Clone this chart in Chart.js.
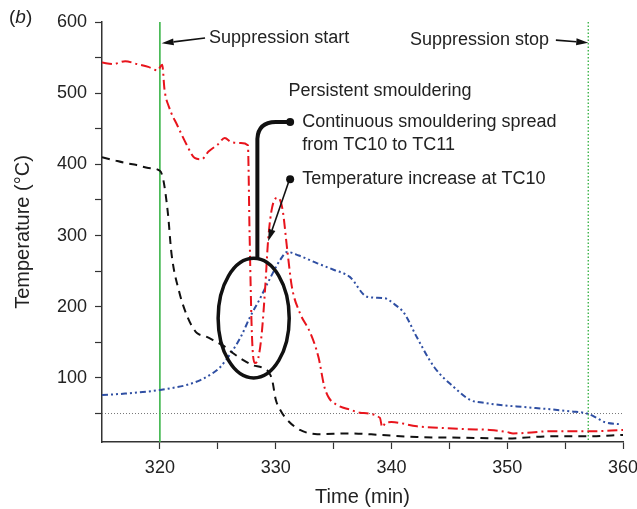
<!DOCTYPE html>
<html>
<head>
<meta charset="utf-8">
<script src="https://cdn.jsdelivr.net/npm/chart.js@4/dist/chart.umd.min.js"></script>
<style>
  html, body { margin: 0; padding: 0; background: #fff; }
  #wrap { width: 637px; height: 509px; }
</style>
</head>
<body>
<div id="wrap"><canvas id="temp-chart"></canvas></div>
<script>
const FONT = '"Liberation Sans", Arial, Helvetica, sans-serif';
const TEXT = '#222222';

// TC10 (red, dash-dot)
const tc10Time = [315, 316, 317, 318, 319, 319.8, 320.2, 320.4, 320.8, 321.5, 322.3, 323, 323.6, 324.2, 325, 325.6, 326.2, 327, 327.6,
  327.75, 327.95, 328.2, 328.5, 328.8, 329.1, 329.35, 329.7, 330.2, 330.6, 331, 331.4, 332.1, 333, 333.7, 334.2, 334.6, 335.3, 336.5,
  337.3, 339, 339.2, 339.5, 340, 342.2, 344, 346.5, 348.5, 350, 350.5, 353.7, 357, 360];
const tc10Temp = [543, 541, 545, 541, 537, 532, 540, 505, 480, 455, 428, 409, 407, 418, 428, 437, 431, 430, 427,
  300, 160, 121, 128, 163, 228, 294, 340, 353, 336, 280, 228, 191, 163, 129, 88, 72, 62, 55,
  51, 44, 31, 37, 38, 32, 30, 28, 27, 24, 22, 25, 25, 27];

// TC11 (black, dashed)
const tc11Time = [315, 316, 317, 318, 319, 320, 320.3, 320.7, 321, 321.7, 322.4, 322.8, 323.2, 324, 324.6, 325.5, 326.3, 327.2, 328,
  328.9, 329.4, 329.7, 330, 330.4, 331, 332.1, 333.6, 336.4, 339, 342.2, 346, 350, 353.7, 357, 360];
const tc11Temp = [410, 406, 402, 399, 395, 391, 378, 330, 275, 219, 185, 172, 163, 158, 153, 145, 135, 125, 118,
  114, 108, 97, 70, 55, 41, 27, 21, 22, 20, 17, 16, 15, 18, 18, 20];

// TC12 (blue, dash-dot-dot)
const tc12Time = [315, 317, 319, 320, 321.1, 322.3, 323.5, 324.5, 325.2, 326.3, 327, 327.8, 328.6, 329.3, 330.4, 331, 332, 333.6,
  335, 336.4, 337.9, 339.4, 340.3, 341.1, 342.2, 343.7, 345.4, 346.8, 348, 349.4, 351.5, 353.7, 355.5, 356.9, 357.6, 358.4, 359.7];
const tc12Temp = [76, 78, 81, 83, 86, 90, 97, 106, 115, 139, 158, 186, 210, 233, 266, 277, 272, 261,
  252, 242, 214, 212, 203, 191, 157, 115, 87, 69, 65, 62, 59, 56, 53, 50, 45, 38, 35];

const X_TICKS = [320, 325, 330, 335, 340, 345, 350, 355, 360];
const Y_TICKS = [50, 100, 150, 200, 250, 300, 350, 400, 450, 500, 550, 600];

const SUPPRESSION_START = 320;
const SUPPRESSION_STOP = 357;
const THRESHOLD = 50;

const toPoints = (xs, ys) => xs.map((x, i) => ({ x, y: ys[i] }));

const drawArrow = (ctx, x1, y1, x2, y2) => {
  const ang = Math.atan2(y2 - y1, x2 - x1);
  const len = 12, half = 3.5;
  const bx = x2 - len * Math.cos(ang), by = y2 - len * Math.sin(ang);
  ctx.beginPath();
  ctx.moveTo(x1, y1);
  ctx.lineTo(bx, by);
  ctx.stroke();
  ctx.beginPath();
  ctx.moveTo(x2, y2);
  ctx.lineTo(bx + half * Math.sin(ang), by - half * Math.cos(ang));
  ctx.lineTo(bx - half * Math.sin(ang), by + half * Math.cos(ang));
  ctx.closePath();
  ctx.fill();
};

const markers = {
  id: 'markers',
  beforeDatasetsDraw(chart) {
    const { ctx, chartArea: a, scales: { x, y } } = chart;
    ctx.save();
    // threshold line
    ctx.strokeStyle = '#777';
    ctx.lineWidth = 1;
    ctx.setLineDash([1, 2]);
    ctx.beginPath();
    ctx.moveTo(a.left, y.getPixelForValue(THRESHOLD));
    ctx.lineTo(a.right, y.getPixelForValue(THRESHOLD));
    ctx.stroke();
    // suppression start / stop
    ctx.strokeStyle = '#3cb54a';
    ctx.lineWidth = 1.6;
    ctx.setLineDash([]);
    ctx.beginPath();
    ctx.moveTo(x.getPixelForValue(SUPPRESSION_START), y.getPixelForValue(600));
    ctx.lineTo(x.getPixelForValue(SUPPRESSION_START), a.bottom);
    ctx.stroke();
    ctx.lineWidth = 1.4;
    ctx.setLineDash([1.5, 2]);
    ctx.beginPath();
    ctx.moveTo(x.getPixelForValue(SUPPRESSION_STOP), y.getPixelForValue(600));
    ctx.lineTo(x.getPixelForValue(SUPPRESSION_STOP), a.bottom);
    ctx.stroke();
    ctx.restore();
  },
  afterDatasetsDraw(chart) {
    const { ctx, scales: { x, y } } = chart;
    const px = (v) => x.getPixelForValue(v);
    const py = (v) => y.getPixelForValue(v);
    ctx.save();
    ctx.fillStyle = TEXT;
    ctx.strokeStyle = '#111';
    ctx.setLineDash([]);

    // ellipse around the dip
    const cx = px(328.1), cy = py(184);
    ctx.lineWidth = 3.5;
    ctx.beginPath();
    ctx.ellipse(cx, cy, px(331.17) - cx, cy - py(268), 0, 0, Math.PI * 2);
    ctx.stroke();

    // thick leader from ellipse to label
    ctx.lineWidth = 4;
    ctx.beginPath();
    ctx.moveTo(px(328.42), py(268));
    ctx.lineTo(px(328.42), py(436));
    ctx.quadraticCurveTo(px(328.5), py(459), px(330), py(459.4));
    ctx.lineTo(px(331.2), py(459.4));
    ctx.stroke();

    // dots
    [[331.25, 459.4], [331.25, 379]].forEach(([dx, dy]) => {
      ctx.beginPath();
      ctx.arc(px(dx), py(dy), 4, 0, Math.PI * 2);
      ctx.fillStyle = '#111';
      ctx.fill();
    });

    // arrows
    ctx.lineWidth = 1.6;
    ctx.fillStyle = '#111';
    drawArrow(ctx, px(331.2), py(379), px(329.35), py(292));
    drawArrow(ctx, px(323.9), py(577.5), px(320.15), py(570));
    drawArrow(ctx, px(354.2), py(574.5), px(357), py(571));

    // labels
    ctx.fillStyle = TEXT;
    ctx.font = `18px ${FONT}`;
    ctx.textBaseline = 'middle';
    ctx.textAlign = 'left';
    ctx.fillText('Suppression start', px(324.25), py(577.4));
    ctx.fillText('Suppression stop', px(341.6), py(574.6));
    ctx.fillText('Persistent smouldering', px(331.1), py(503));
    ctx.fillText('Continuous smouldering spread', px(332.3), py(459.4));
    ctx.fillText('from TC10 to TC11', px(332.3), py(427));
    ctx.fillText('Temperature increase at TC10', px(332.3), py(379));

    // panel label
    ctx.font = `19px ${FONT}`;
    ctx.textBaseline = 'middle';
    let tx = 9;
    ctx.fillText('(', tx, 18);
    tx += ctx.measureText('(').width;
    ctx.font = `italic 19px ${FONT}`;
    ctx.fillText('b', tx, 18);
    tx += ctx.measureText('b').width;
    ctx.font = `19px ${FONT}`;
    ctx.fillText(')', tx, 18);
    ctx.restore();
  },
};

const seriesStyle = (color, dash) => ({
  borderColor: color,
  borderWidth: 2,
  borderDash: dash,
  pointRadius: 0,
  fill: false,
  cubicInterpolationMode: 'monotone',
});

new Chart(document.getElementById('temp-chart'), {
  type: 'line',
  data: {
    datasets: [
      { label: 'TC10', data: toPoints(tc10Time, tc10Temp), ...seriesStyle('#e8141c', [10, 4, 2, 4]) },
      { label: 'TC11', data: toPoints(tc11Time, tc11Temp), ...seriesStyle('#111111', [8, 6]) },
      { label: 'TC12', data: toPoints(tc12Time, tc12Temp), ...seriesStyle('#2f4fa3', [6, 3, 2, 3, 2, 3]) },
    ],
  },
  options: {
    responsive: true,
    maintainAspectRatio: false,
    animation: false,
    layout: { padding: { top: 22, right: 14, left: 0, bottom: 0 } },
    plugins: {
      legend: { display: false },
      tooltip: { enabled: false },
    },
    scales: {
      x: {
        type: 'linear',
        min: 315,
        max: 360,
        afterBuildTicks: (s) => { s.ticks = X_TICKS.map((v) => ({ value: v })); },
        afterFit: (s) => { s.height = 67; s.paddingRight = 0; s.paddingLeft = 0; },
        grid: { drawOnChartArea: false, tickLength: 7, color: '#333', tickWidth: 1.2 },
        border: { color: '#333', width: 1.5 },
        ticks: {
          color: TEXT,
          padding: 8,
          maxRotation: 0,
          autoSkip: false,
          font: { family: FONT, size: 18 },
          callback: (v) => (v % 10 === 0 ? String(v) : ''),
        },
        title: {
          display: true,
          text: 'Time (min)',
          color: TEXT,
          font: { family: FONT, size: 20 },
          padding: { top: 0, bottom: 0 },
        },
      },
      y: {
        min: 10,
        max: 600,
        afterBuildTicks: (s) => { s.ticks = Y_TICKS.map((v) => ({ value: v })); },
        afterFit: (s) => { s.width = 102; },
        grid: { drawOnChartArea: false, tickLength: 7, color: '#333', tickWidth: 1.2 },
        border: { color: '#333', width: 1.5 },
        ticks: {
          color: TEXT,
          padding: 8,
          autoSkip: false,
          font: { family: FONT, size: 18 },
          callback: (v) => (v % 100 === 0 ? String(v) : ''),
        },
        title: {
          display: true,
          text: 'Temperature (°C)',
          color: TEXT,
          font: { family: FONT, size: 20 },
          padding: { top: 11, bottom: 0 },
        },
      },
    },
  },
  plugins: [markers],
});
</script>
</body>
</html>
